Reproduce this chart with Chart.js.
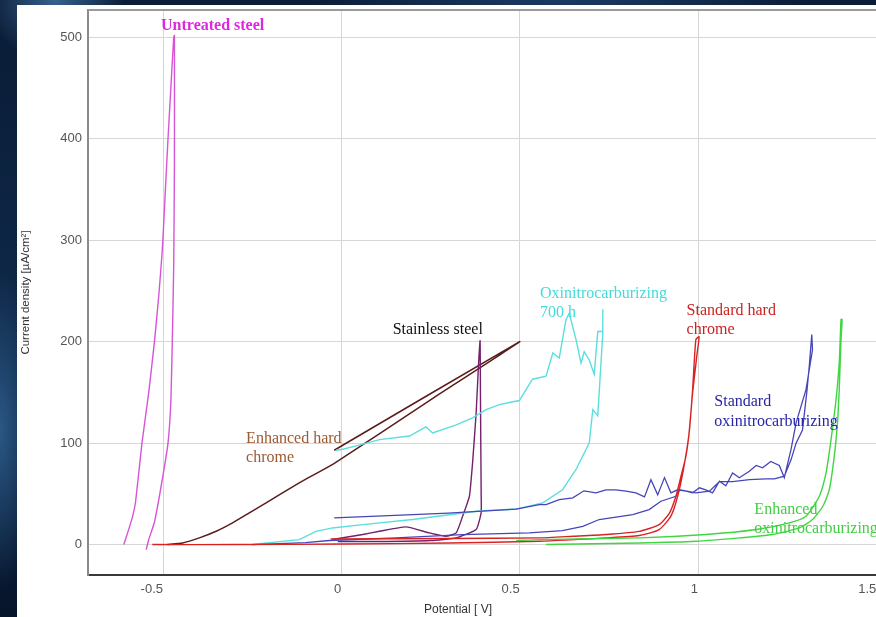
<!DOCTYPE html>
<html>
<head>
<meta charset="utf-8">
<script src="https://cdn.jsdelivr.net/npm/chart.js@4/dist/chart.umd.min.js"></script>
<style>
  html, body { margin: 0; padding: 0; width: 876px; height: 617px; overflow: hidden; }
  body {
    position: relative;
    background:
      radial-gradient(ellipse 70px 60px at 55px 0px, rgba(70,120,170,0.75) 0%, rgba(70,120,170,0) 100%),
      radial-gradient(ellipse 40px 160px at 0px 430px, rgba(50,100,150,0.8) 0%, rgba(50,100,150,0) 100%),
      radial-gradient(ellipse 260px 30px at 560px 0px, rgba(40,80,130,0.6) 0%, rgba(40,80,130,0) 100%),
      linear-gradient(180deg, #0a1c36 0%, #0d2646 45%, #0c2442 70%, #06142a 100%);
  }
  #panel { position: absolute; left: 17px; top: 5px; width: 900px; height: 612px; background: #ffffff; }
  canvas { display: block; }
</style>
</head>
<body>
<div id="panel"><canvas id="polarisation" width="900" height="612"></canvas></div>
<script>
// Potentiodynamic polarisation curves: potential [V] vs current density [µA/cm²]
// Each curve is the forward scan followed by the reverse scan.

const untreatedV = [-0.610,-0.597,-0.585,-0.577,-0.559,-0.540,-0.524,-0.512,-0.502,-0.494,-0.486,-0.478,-0.470,-0.468,-0.468,-0.470,-0.474,-0.478,-0.486,-0.505,-0.524,-0.540,-0.547];
const untreatedI = [0,14,28,42,100,150,200,245,290,345,400,450,500,502,374,274,200,141,100,58,22,5,-5];

const hardChromeEnhV = [-0.488,-0.445,-0.398,-0.351,-0.305,-0.258,-0.211,-0.165,-0.118,-0.071,-0.024,0.247,0.5,-0.02];
const hardChromeEnhI = [0,1.6,6.6,13.1,21.4,31.2,41,51,60.8,70,79,142,200,93];

const stainlessV = [-0.025,0.06,0.107,0.181,0.247,0.293,0.322,0.340,0.359,0.368,0.378,0.385,0.389,0.390,0.391,0.392,0.392,0.378,0.322,0.25,0.1,-0.01];
const stainlessI = [5,9.9,13.1,17.4,11.5,8.2,11.5,27.9,47.6,80.9,130,180,201,150,100,50,31.6,14.8,6.6,4,3,3];

const oxi700V = [-0.25,-0.118,-0.071,-0.025,0.06,0.2,0.378,0.49,0.564,0.62,0.658,0.695,0.705,0.719,0.733,0.733,
                 0.733,0.719,0.709,0.695,0.681,0.672,0.658,0.639,0.63,0.611,0.593,0.574,0.536,0.499,0.471,0.443,0.406,0.368,0.322,0.256,0.237,0.191,0.107,0.05,0.004,-0.015];
const oxi700I = [0,4.9,13,16.4,19.7,24.7,32.8,35,41,54,74,100,133,127,208,232,
                 210,210,168,182,190,179,202,228,222,184,189,166,163,142,140,138,133,125,118,110,116,107,103.5,98,94,93];

const oxiStdV = [-0.25,-0.1,-0.034,0.153,0.34,0.527,0.62,0.677,0.723,0.817,0.863,0.896,0.938,0.948,0.994,1.032,1.06,1.097,1.144,1.19,1.214,1.242,1.261,1.275,1.293,1.305,1.312,1.319,
                 1.321,1.303,1.275,1.261,1.242,1.228,1.204,1.181,1.163,1.144,1.116,1.097,1.078,1.06,1.041,1.022,1.004,0.985,0.966,0.943,0.924,0.906,0.887,0.868,0.85,0.826,0.798,0.77,0.742,0.714,0.68,0.649,0.611,0.574,0.555,0.49,0.3,0.1,-0.02];
const oxiStdI = [0,2,4,6.6,9.9,11.5,13.8,18,24.7,29.6,34.5,42.7,47.6,54,51,52.6,62,62,64,64.8,64.8,67.4,83.8,100,113,150,176,207,
                 192,153,120,94,66,78,82,75.6,78,72.3,65.8,70.7,58,62.4,51,54,56,51,52.6,54,51,66,49,64,47,51,52.6,54,54,51,53,46,44.4,39.4,39.4,35,31,28,26.3];

const hardChromeStdV = [-0.53,-0.3,0,0.3,0.555,0.742,0.835,0.891,0.924,0.943,0.959,0.974,0.985,0.998,1.003,
                        0.994,0.985,0.976,0.966,0.952,0.938,0.92,0.891,0.835,0.742,0.649,0.555,0.3,0,-0.03];
const hardChromeStdI = [0,0,0.5,1.5,3.3,6.6,8.9,14.8,28,47.6,74,107,150,190,205,
                        202,153,113,87,67,47.6,31,19.7,13,9.9,8.2,6.6,6,5.5,5.5];

const oxiEnhV = [0.574,0.835,0.994,1.116,1.209,1.284,1.321,1.35,1.368,1.382,1.391,1.396,1.401,1.404,
                 1.401,1.396,1.387,1.373,1.359,1.34,1.303,1.256,1.163,1.022,0.835,0.555,0.49];
const oxiEnhI = [0,1.6,3.3,6.6,9.9,16.4,24.7,37.8,54,87,120,153,202,222,
                 222,179,143,103.5,70.7,47.6,28,21.4,14.8,9.9,6.6,4.9,4];

const xTickValues = [-0.5, 0, 0.5, 1, 1.5];
const yTickValues = [0, 100, 200, 300, 400, 500];

const toPoints = (vs, is) => vs.map((v, k) => ({ x: v, y: is[k] }));

const curve = (label, vs, is, color, width, tension) => ({
  label,
  data: toPoints(vs, is),
  borderColor: color,
  borderWidth: width,
  pointRadius: 0,
  fill: false,
  tension: tension
});

// Text labels placed next to each curve, anchored in data space
const curveLabels = [
  { lines: ['Untreated steel'], v: -0.5055, i: 507.2, color: '#dd28dd', font: 'bold 16px "Liberation Serif"' },
  { lines: ['Stainless steel'], v: 0.1438, i: 207.1, color: '#111111', font: '16px "Liberation Serif"' },
  { lines: ['Oxinitrocarburizing', '700 h'], v: 0.557, i: 243.3, color: '#45dada', font: '16px "Liberation Serif"' },
  { lines: ['Standard hard', 'chrome'], v: 0.968, i: 226.8, color: '#cc2222', font: '16px "Liberation Serif"' },
  { lines: ['Standard', 'oxinitrocarburizing'], v: 1.0457, i: 136.4, color: '#2626a6', font: '16px "Liberation Serif"' },
  { lines: ['Enhanced hard', 'chrome'], v: -0.267, i: 100.3, color: '#9a5a32', font: '16px "Liberation Serif"' },
  { lines: ['Enhanced', 'oxinitrocarburizing'], v: 1.158, i: 30.6, color: '#44cc44', font: '16px "Liberation Serif"' }
];

const labelsPlugin = {
  id: 'curveLabels',
  afterDraw(chart) {
    const { ctx, chartArea, scales } = chart;
    ctx.save();
    // frame line along the top of the plot
    ctx.strokeStyle = '#9a9a9a';
    ctx.lineWidth = 2;
    ctx.beginPath();
    ctx.moveTo(chartArea.left, chartArea.top);
    ctx.lineTo(chartArea.right, chartArea.top);
    ctx.stroke();

    ctx.textAlign = 'left';
    ctx.textBaseline = 'alphabetic';
    curveLabels.forEach(l => {
      ctx.font = l.font;
      ctx.fillStyle = l.color;
      const px = scales.x.getPixelForValue(l.v);
      const py = scales.y.getPixelForValue(l.i);
      l.lines.forEach((t, k) => ctx.fillText(t, px, py + k * 19.3));
    });

    // x axis title
    ctx.font = '12px "Liberation Sans"';
    ctx.fillStyle = '#333333';
    ctx.textAlign = 'center';
    ctx.fillText('Potential [ V]', chartArea.left + 370, chart.height - 4);
    ctx.restore();
  }
};

new Chart(document.getElementById('polarisation'), {
  type: 'line',
  data: {
    datasets: [
      curve('Enhanced oxinitrocarburizing', oxiEnhV, oxiEnhI, '#40d640', 1.4, 0.2),
      curve('Standard hard chrome', hardChromeStdV, hardChromeStdI, '#d92222', 1.4, 0.2),
      curve('Standard oxinitrocarburizing', oxiStdV, oxiStdI, '#4646b8', 1.3, 0),
      curve('Oxinitrocarburizing 700 h', oxi700V, oxi700I, '#5cdede', 1.4, 0),
      curve('Stainless steel', stainlessV, stainlessI, '#74206e', 1.4, 0.15),
      curve('Enhanced hard chrome', hardChromeEnhV, hardChromeEnhI, '#5a1c1c', 1.5, 0.15),
      curve('Untreated steel', untreatedV, untreatedI, '#d655d6', 1.4, 0.15)
    ]
  },
  options: {
    responsive: false,
    animation: false,
    events: [],
    layout: { padding: { left: 0, right: 5, top: 5, bottom: 0 } },
    plugins: { legend: { display: false }, tooltip: { enabled: false } },
    scales: {
      x: {
        type: 'linear',
        min: -0.7103,
        max: 1.6,
        afterFit: s => { s.height = 42; s.paddingLeft = 0; s.paddingRight = 0; },
        afterBuildTicks: s => { s.ticks = xTickValues.map(v => ({ value: v })); },
        ticks: {
          align: 'end',
          padding: 7,
          color: '#555555',
          font: { family: 'Liberation Sans', size: 13 },
          callback: v => String(v)
        },
        grid: { color: '#d6d6d6', lineWidth: 1, drawTicks: false },
        border: { color: '#3a3a3a', width: 2 }
      },
      y: {
        type: 'linear',
        min: -30,
        max: 527,
        afterFit: s => { s.width = 71; s.paddingTop = 0; s.paddingBottom = 0; },
        afterBuildTicks: s => { s.ticks = yTickValues.map(v => ({ value: v })); },
        ticks: {
          padding: 6,
          color: '#555555',
          font: { family: 'Liberation Sans', size: 13 },
          callback: v => String(v)
        },
        grid: { color: '#d6d6d6', lineWidth: 1, drawTicks: false },
        border: { color: '#8a8a8a', width: 2 },
        title: {
          display: true,
          text: 'Current density [µA/cm²]',
          color: '#333333',
          font: { family: 'Liberation Sans', size: 11.5 },
          padding: { top: 2, bottom: 0 }
        }
      }
    }
  },
  plugins: [labelsPlugin]
});
</script>
</body>
</html>
